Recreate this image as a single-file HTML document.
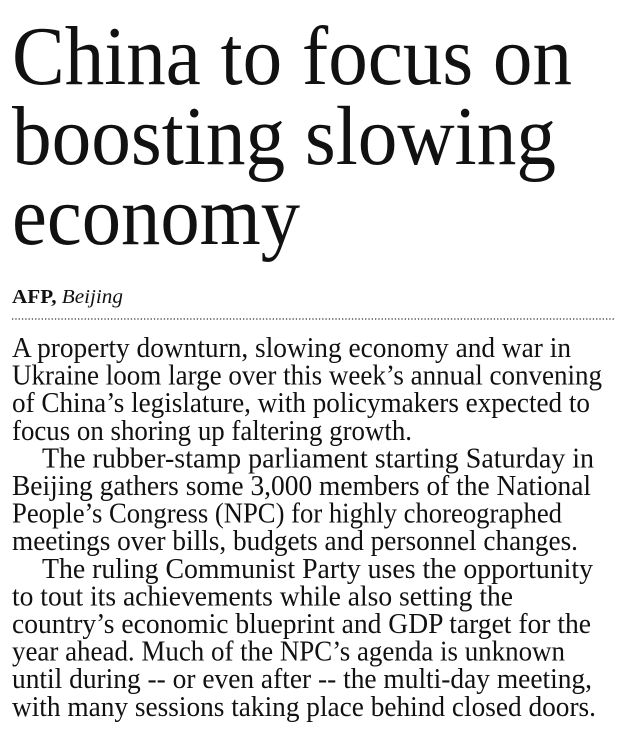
<!DOCTYPE html>
<html><head><meta charset="utf-8"><style>
html,body{margin:0;padding:0;background:#fff;}
svg{display:block;}
text{font-family:"Liberation Serif",serif;fill:#111;}
</style></head><body>
<svg width="624" height="736" viewBox="0 0 624 736" xmlns="http://www.w3.org/2000/svg">
<g font-size="84">
<text x="12" y="84" textLength="560" lengthAdjust="spacingAndGlyphs">China to focus on</text>
<text x="12" y="164" textLength="544" lengthAdjust="spacingAndGlyphs">boosting slowing</text>
<text x="12" y="244" textLength="288" lengthAdjust="spacingAndGlyphs">economy</text>
</g>
<text x="12" y="303" font-size="20" textLength="111" lengthAdjust="spacingAndGlyphs"><tspan font-weight="bold">AFP,</tspan> <tspan font-style="italic">Beijing</tspan></text>
<line x1="12" y1="319" x2="614" y2="319" stroke="#333" stroke-width="1.3" stroke-dasharray="1.3 2"/>
<g font-size="28">
<text x="12" y="357" textLength="559" lengthAdjust="spacingAndGlyphs">A property downturn, slowing economy and war in</text>
<text x="12" y="384.6" textLength="590" lengthAdjust="spacingAndGlyphs">Ukraine loom large over this week’s annual convening</text>
<text x="12" y="412.2" textLength="578" lengthAdjust="spacingAndGlyphs">of China’s legislature, with policymakers expected to</text>
<text x="12" y="439.8" textLength="400" lengthAdjust="spacingAndGlyphs">focus on shoring up faltering growth.</text>
<text x="42" y="467.4" textLength="552" lengthAdjust="spacingAndGlyphs">The rubber-stamp parliament starting Saturday in</text>
<text x="12" y="495" textLength="579" lengthAdjust="spacingAndGlyphs">Beijing gathers some 3,000 members of the National</text>
<text x="12" y="522.6" textLength="550" lengthAdjust="spacingAndGlyphs">People’s Congress (NPC) for highly choreographed</text>
<text x="12" y="550.2" textLength="566" lengthAdjust="spacingAndGlyphs">meetings over bills, budgets and personnel changes.</text>
<text x="42" y="577.8" textLength="551" lengthAdjust="spacingAndGlyphs">The ruling Communist Party uses the opportunity</text>
<text x="12" y="605.4" textLength="501" lengthAdjust="spacingAndGlyphs">to tout its achievements while also setting the</text>
<text x="12" y="633" textLength="579" lengthAdjust="spacingAndGlyphs">country’s economic blueprint and GDP target for the</text>
<text x="12" y="660.6" textLength="553" lengthAdjust="spacingAndGlyphs">year ahead. Much of the NPC’s agenda is unknown</text>
<text x="12" y="688.2" textLength="580" lengthAdjust="spacingAndGlyphs">until during -- or even after -- the multi-day meeting,</text>
<text x="12" y="715.8" textLength="584" lengthAdjust="spacingAndGlyphs">with many sessions taking place behind closed doors.</text>
</g>
</svg>
</body></html>
